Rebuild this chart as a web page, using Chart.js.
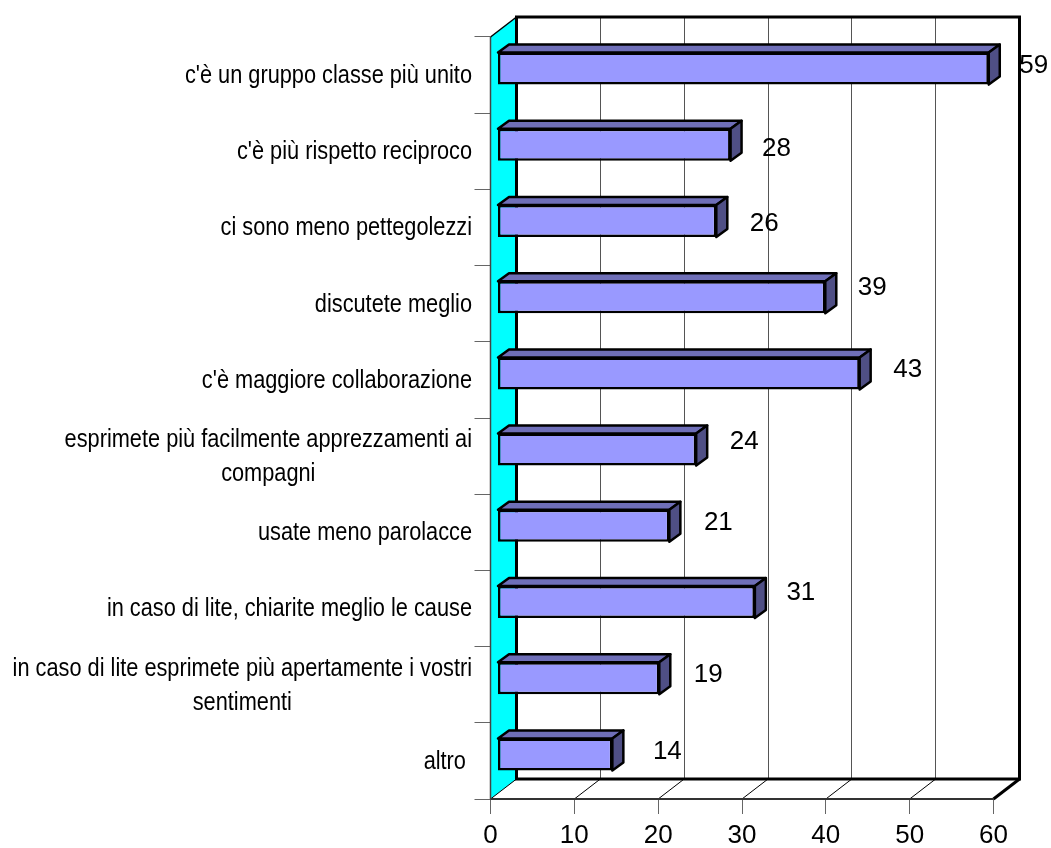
<!DOCTYPE html>
<html>
<head>
<meta charset="utf-8">
<style>
html, body { margin: 0; padding: 0; background: #fff; }
canvas { display: block; }
</style>
<script src="https://cdn.jsdelivr.net/npm/chart.js@4/dist/chart.umd.min.js"></script>
</head>
<body>
<canvas id="bar3d" width="1051" height="848"></canvas>
<script>
// Data
var categories = [
    "c'è un gruppo classe più unito",
    "c'è più rispetto reciproco",
    "ci sono meno pettegolezzi",
    "discutete meglio",
    "c'è maggiore collaborazione",
    ["esprimete più facilmente apprezzamenti ai", "compagni"],
    "usate meno parolacce",
    "in caso di lite, chiarite meglio le cause",
    ["in caso di lite esprimete più apertamente i vostri", "sentimenti"],
    "altro "
];
var seriesValues = [58.6, 27.8, 26.1, 39.1, 43.2, 23.7, 20.5, 30.7, 19.3, 13.7];
var xTicks = [0, 10, 20, 30, 40, 50, 60];

// where each value label sits relative to the end of its bar
var labelShiftX = [45, 46, 48, 47, 48, 48, 49, 46, 49, 55];
var labelShiftY = [-3, 4, 3, -9, -4, -8, -3, -9, -3, -3];

var wallDX = 26, wallDY = -20;   // depth of the box
var barDX = 7, barDY = -6.5;     // bars stand a little behind the front plane
var faceDX = 11, faceDY = -8;    // depth of each bar
var labelFont = '25px "Liberation Sans", Arial, sans-serif';
var valueFont = '26px "Liberation Sans", Arial, sans-serif';
var labelSqueeze = 0.87;

function line(ctx, x1, y1, x2, y2, color, width) {
    ctx.strokeStyle = color;
    ctx.lineWidth = width;
    ctx.beginPath();
    ctx.moveTo(x1, y1);
    ctx.lineTo(x2, y2);
    ctx.stroke();
}

function poly(ctx, pts, fill) {
    ctx.fillStyle = fill;
    ctx.strokeStyle = '#000';
    ctx.lineWidth = 2.5;
    ctx.lineJoin = 'round';
    ctx.beginPath();
    ctx.moveTo(pts[0][0], pts[0][1]);
    for (var i = 1; i < pts.length; i++) ctx.lineTo(pts[i][0], pts[i][1]);
    ctx.closePath();
    ctx.fill();
    ctx.stroke();
}

var box3d = {
    id: 'box3d',
    beforeDatasetsDraw: function (chart) {
        var ctx = chart.ctx, a = chart.chartArea, xs = chart.scales.x;
        ctx.save();

        // left wall
        ctx.fillStyle = '#00FFFF';
        ctx.beginPath();
        ctx.moveTo(a.left, a.top);
        ctx.lineTo(a.left + wallDX, a.top + wallDY);
        ctx.lineTo(a.left + wallDX, a.bottom + wallDY);
        ctx.lineTo(a.left, a.bottom);
        ctx.closePath();
        ctx.fill();

        // gridlines on the back wall and on the floor
        xTicks.forEach(function (t) {
            var x = xs.getPixelForValue(t);
            if (t > 0 && t < 60) {
                var gx = Math.floor(x + wallDX) + 0.5;
                line(ctx, gx, a.top + wallDY, gx, a.bottom + wallDY, '#555', 1);
            }
            if (t < 60) line(ctx, x, a.bottom, x + wallDX, a.bottom + wallDY, '#000', 1);
        });

        // box outline
        line(ctx, a.left, a.top, a.left, a.bottom, '#444', 1.5);
        line(ctx, a.left, a.top, a.left + wallDX, a.top + wallDY, '#000', 1.5);
        ctx.strokeStyle = '#000';
        ctx.lineWidth = 3;
        ctx.strokeRect(a.left + wallDX, a.top + wallDY, a.right - a.left, a.bottom - a.top);
        line(ctx, a.right, a.bottom, a.right + wallDX, a.bottom + wallDY, '#000', 3);
        line(ctx, a.left, a.bottom, a.right, a.bottom, '#333', 2);

        ctx.restore();

        // the bars themselves are drawn by Chart.js, shifted into the box
        ctx.save();
        ctx.translate(barDX, barDY);
    },
    afterDatasetsDraw: function (chart) {
        var ctx = chart.ctx, ys = chart.scales.y;
        var bars = chart.getDatasetMeta(0).data;

        bars.forEach(function (b) {
            var p = b.getProps(['x', 'y', 'base', 'height'], true);
            var top = p.y - p.height / 2, bot = p.y + p.height / 2;
            poly(ctx, [[p.base, top], [p.base + faceDX, top + faceDY], [p.x + faceDX, top + faceDY], [p.x, top]], '#6F6FB8');
            poly(ctx, [[p.x, top], [p.x + faceDX, top + faceDY], [p.x + faceDX, bot + faceDY], [p.x, bot]], '#4F4F85');
        });
        ctx.restore();

        // value labels
        ctx.save();
        ctx.fillStyle = '#000';
        ctx.font = valueFont;
        ctx.textAlign = 'center';
        ctx.textBaseline = 'middle';
        bars.forEach(function (b, i) {
            var p = b.getProps(['x', 'y'], true);
            ctx.fillText(seriesValues[i].toFixed(0), p.x + barDX + labelShiftX[i], p.y + barDY + labelShiftY[i]);
        });
        ctx.restore();

        // category labels: squeezed text, lines centred within their block
        ctx.save();
        ctx.fillStyle = '#000';
        ctx.font = labelFont;
        ctx.textAlign = 'center';
        ctx.textBaseline = 'middle';
        var rightEdge = 472, lineGap = 34;
        categories.forEach(function (c, i) {
            var lines = Array.isArray(c) ? c : [c];
            var w = 0;
            lines.forEach(function (l) { w = Math.max(w, ctx.measureText(l).width); });
            var yc = ys.getPixelForTick(i);
            var y0 = yc - (lines.length - 1) * lineGap / 2;
            ctx.save();
            ctx.translate(rightEdge - w * labelSqueeze / 2, 0);
            ctx.scale(labelSqueeze, 1);
            lines.forEach(function (l, k) {
                ctx.fillText(l, 0, y0 + k * lineGap + 1);
            });
            ctx.restore();
        });
        ctx.restore();
    }
};

var config = {
    type: 'bar',
    data: {
        labels: categories,
        datasets: [{
            data: seriesValues,
            backgroundColor: '#9999FF',
            borderColor: '#000',
            borderWidth: 2.5,
            borderSkipped: false,
            barPercentage: 0.42,
            categoryPercentage: 1,
            clip: false
        }]
    },
    options: {
        indexAxis: 'y',
        responsive: false,
        animation: false,
        layout: { padding: { left: 0, top: 37, right: 57.5, bottom: 0 } },
        plugins: { legend: { display: false }, tooltip: { enabled: false } },
        scales: {
            x: {
                min: 0,
                max: 60,
                afterFit: function (s) { s.height = 49; },
                afterBuildTicks: function (s) {
                    s.ticks = xTicks.map(function (v) { return { value: v }; });
                },
                grid: { drawOnChartArea: false, color: '#666', tickLength: 15 },
                border: { color: '#666' },
                ticks: {
                    color: '#000',
                    padding: 6,
                    maxRotation: 0,
                    autoSkip: false,
                    font: { family: '"Liberation Sans", Arial, sans-serif', size: 26 }
                }
            },
            y: {
                afterFit: function (s) { s.width = 490.5; },
                grid: { drawOnChartArea: false, color: '#666', tickLength: 16 },
                border: { color: '#666' },
                ticks: { display: false }
            }
        }
    },
    plugins: [box3d]
};

var barChart = new Chart(document.getElementById('bar3d'), config);
</script>
</body>
</html>
